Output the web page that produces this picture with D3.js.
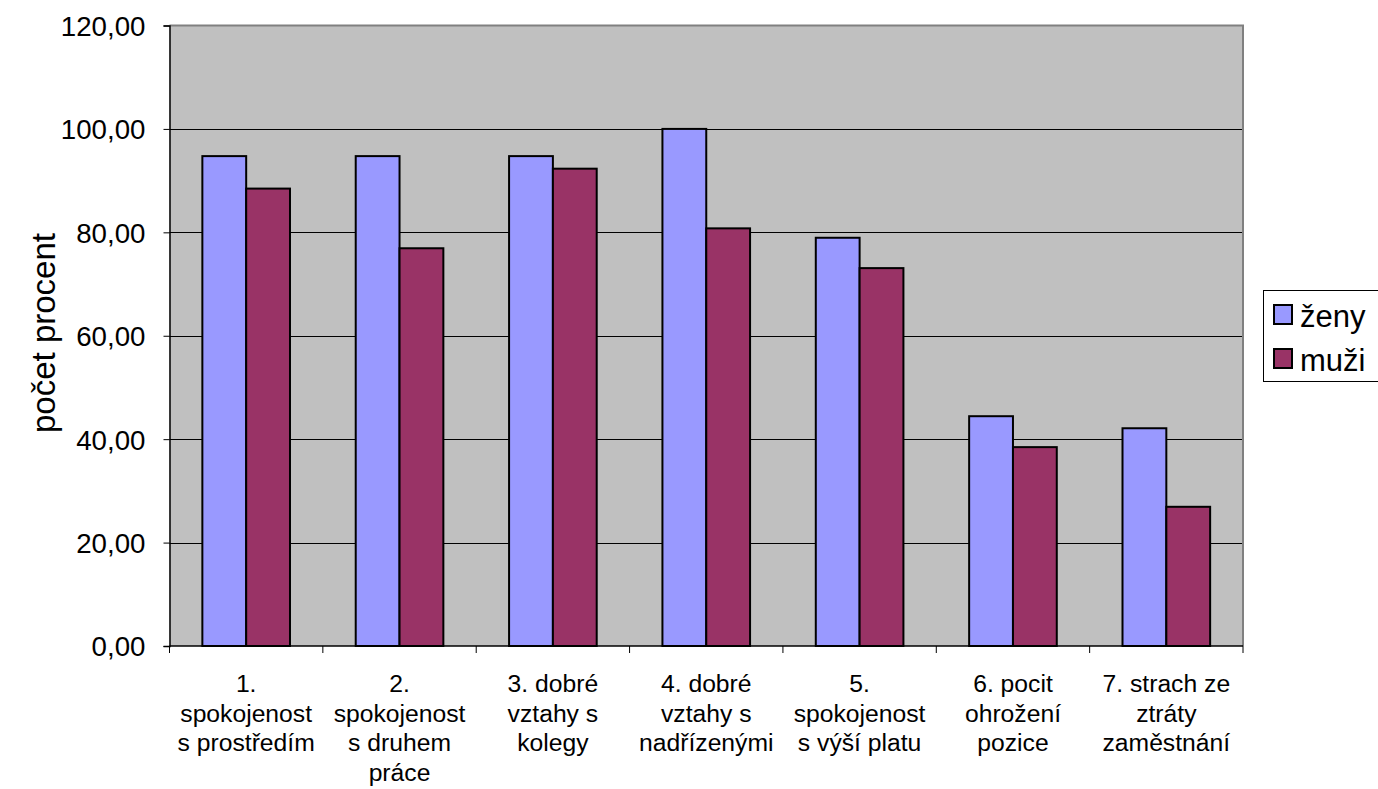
<!DOCTYPE html>
<html>
<head>
<meta charset="utf-8">
<script src="https://cdn.jsdelivr.net/npm/d3@7"></script>
<style>
  html, body { margin: 0; padding: 0; background: #fff; }
  svg { display: block; font-family: "Liberation Sans", Arial, sans-serif; }
</style>
</head>
<body>
<svg id="chart" width="1378" height="789"></svg>
<script>
// Survey categories (each entry = label lines as wrapped under the axis)
const categories = [
  ["1.", "spokojenost", "s prostředím"],
  ["2.", "spokojenost", "s druhem", "práce"],
  ["3. dobré", "vztahy s", "kolegy"],
  ["4. dobré", "vztahy s", "nadřízenými"],
  ["5.", "spokojenost", "s výší platu"],
  ["6. pocit", "ohrožení", "pozice"],
  ["7. strach ze", "ztráty", "zaměstnání"]
];
const seriesNames = ["ženy", "muži"];
const zeny = [94.74, 94.74, 94.74, 100.00, 78.95, 44.44, 42.11];
const muzi = [88.46, 76.92, 92.31, 80.77, 73.08, 38.46, 26.92];
const yTicks = [0, 20, 40, 60, 80, 100, 120];
const seriesColors = ["#9999FF", "#993366"];

const svg = d3.select("#chart");
const plot = { left: 169.5, top: 25.5, right: 1243, bottom: 646 };

const catIdx = categories.map((d, i) => i);
const x0 = d3.scaleBand().domain(catIdx).range([plot.left, plot.right]).padding(0);
const bw = x0.bandwidth();
const barW = bw / 3.5;
const x1 = d3.scaleBand().domain(seriesNames)
  .range([barW * 0.75, barW * 2.75]).padding(0);
const y = d3.scaleLinear().domain([0, 120]).range([plot.bottom, plot.top]);
const fmt = v => d3.format(".2f")(v).replace(".", ",");

// plot background
svg.append("rect")
  .attr("x", plot.left).attr("y", plot.top)
  .attr("width", plot.right - plot.left).attr("height", plot.bottom - plot.top)
  .attr("fill", "#C0C0C0");

// horizontal gridlines
svg.append("g").selectAll("line")
  .data(yTicks.filter(t => t > 0 && t < 120))
  .join("line")
  .attr("x1", plot.left).attr("x2", plot.right)
  .attr("y1", d => Math.round(y(d)) + 0.5).attr("y2", d => Math.round(y(d)) + 0.5)
  .attr("stroke", "#000").attr("stroke-width", 1);

// top and right border of the plot area
svg.append("path")
  .attr("d", `M${plot.left},${plot.top}H${plot.right}V${plot.bottom}`)
  .attr("fill", "none").attr("stroke", "#808080").attr("stroke-width", 2);

// bars
const rows = catIdx.map(i => ({ i, vals: [zeny[i], muzi[i]] }));
const groups = svg.append("g").selectAll("g")
  .data(rows).join("g")
  .attr("transform", d => `translate(${x0(d.i)},0)`);
groups.selectAll("rect")
  .data(d => d.vals.map((v, k) => ({ v, k })))
  .join("rect")
  .attr("x", d => x1(seriesNames[d.k]))
  .attr("y", d => y(d.v))
  .attr("width", x1.bandwidth())
  .attr("height", d => y(0) - y(d.v))
  .attr("fill", d => seriesColors[d.k])
  .attr("stroke", "#000").attr("stroke-width", 2);

// y axis
const yAxis = d3.axisLeft(y).tickValues(yTicks).tickSize(6).tickFormat(fmt);
const gy = svg.append("g").attr("transform", `translate(${plot.left},0)`).call(yAxis);
gy.select(".domain").attr("stroke", "#000").attr("stroke-width", 1.5);
gy.selectAll(".tick line").attr("stroke", "#000");
gy.selectAll(".tick text")
  .attr("x", -24).attr("dy", "0.36em")
  .attr("font-size", 27.7).attr("fill", "#000")
  .attr("font-family", "Liberation Sans, Arial, sans-serif");

// x axis (ticks at category boundaries)
const boundaries = catIdx.map(i => x0(i)).concat([plot.right]);
svg.append("line")
  .attr("x1", plot.left).attr("x2", plot.right)
  .attr("y1", plot.bottom).attr("y2", plot.bottom)
  .attr("stroke", "#000").attr("stroke-width", 1.5);
svg.append("g").selectAll("line").data(boundaries).join("line")
  .attr("x1", d => d).attr("x2", d => d)
  .attr("y1", plot.bottom).attr("y2", plot.bottom + 7)
  .attr("stroke", "#000").attr("stroke-width", 1);

// category labels
const labels = svg.append("g").selectAll("text")
  .data(rows).join("text")
  .attr("text-anchor", "middle")
  .attr("font-size", 24.7).attr("fill", "#000");
labels.selectAll("tspan")
  .data(d => categories[d.i].map(line => ({ line, cx: x0(d.i) + bw / 2 })))
  .join("tspan")
  .attr("x", d => d.cx)
  .attr("y", (d, k) => 692 + k * 29.7)
  .text(d => d.line);

// y axis title
svg.append("text")
  .attr("transform", "translate(55,333) rotate(-90)")
  .attr("text-anchor", "middle")
  .attr("font-size", 33).attr("fill", "#000")
  .text("počet procent");

// legend
const lg = svg.append("g");
lg.append("rect")
  .attr("x", 1263.5).attr("y", 290.5).attr("width", 118).attr("height", 91)
  .attr("fill", "#fff").attr("stroke", "#000").attr("stroke-width", 1);
const items = lg.selectAll("g.item").data(seriesNames).join("g")
  .attr("class", "item")
  .attr("transform", (d, k) => `translate(0,${k * 44})`);
items.append("rect")
  .attr("x", 1274).attr("y", 305).attr("width", 18).attr("height", 19)
  .attr("fill", (d, k) => seriesColors[k]).attr("stroke", "#000").attr("stroke-width", 2);
items.append("text")
  .attr("x", 1300).attr("y", 326.5)
  .attr("font-size", 31).attr("fill", "#000")
  .text(d => d);
</script>
</body>
</html>
